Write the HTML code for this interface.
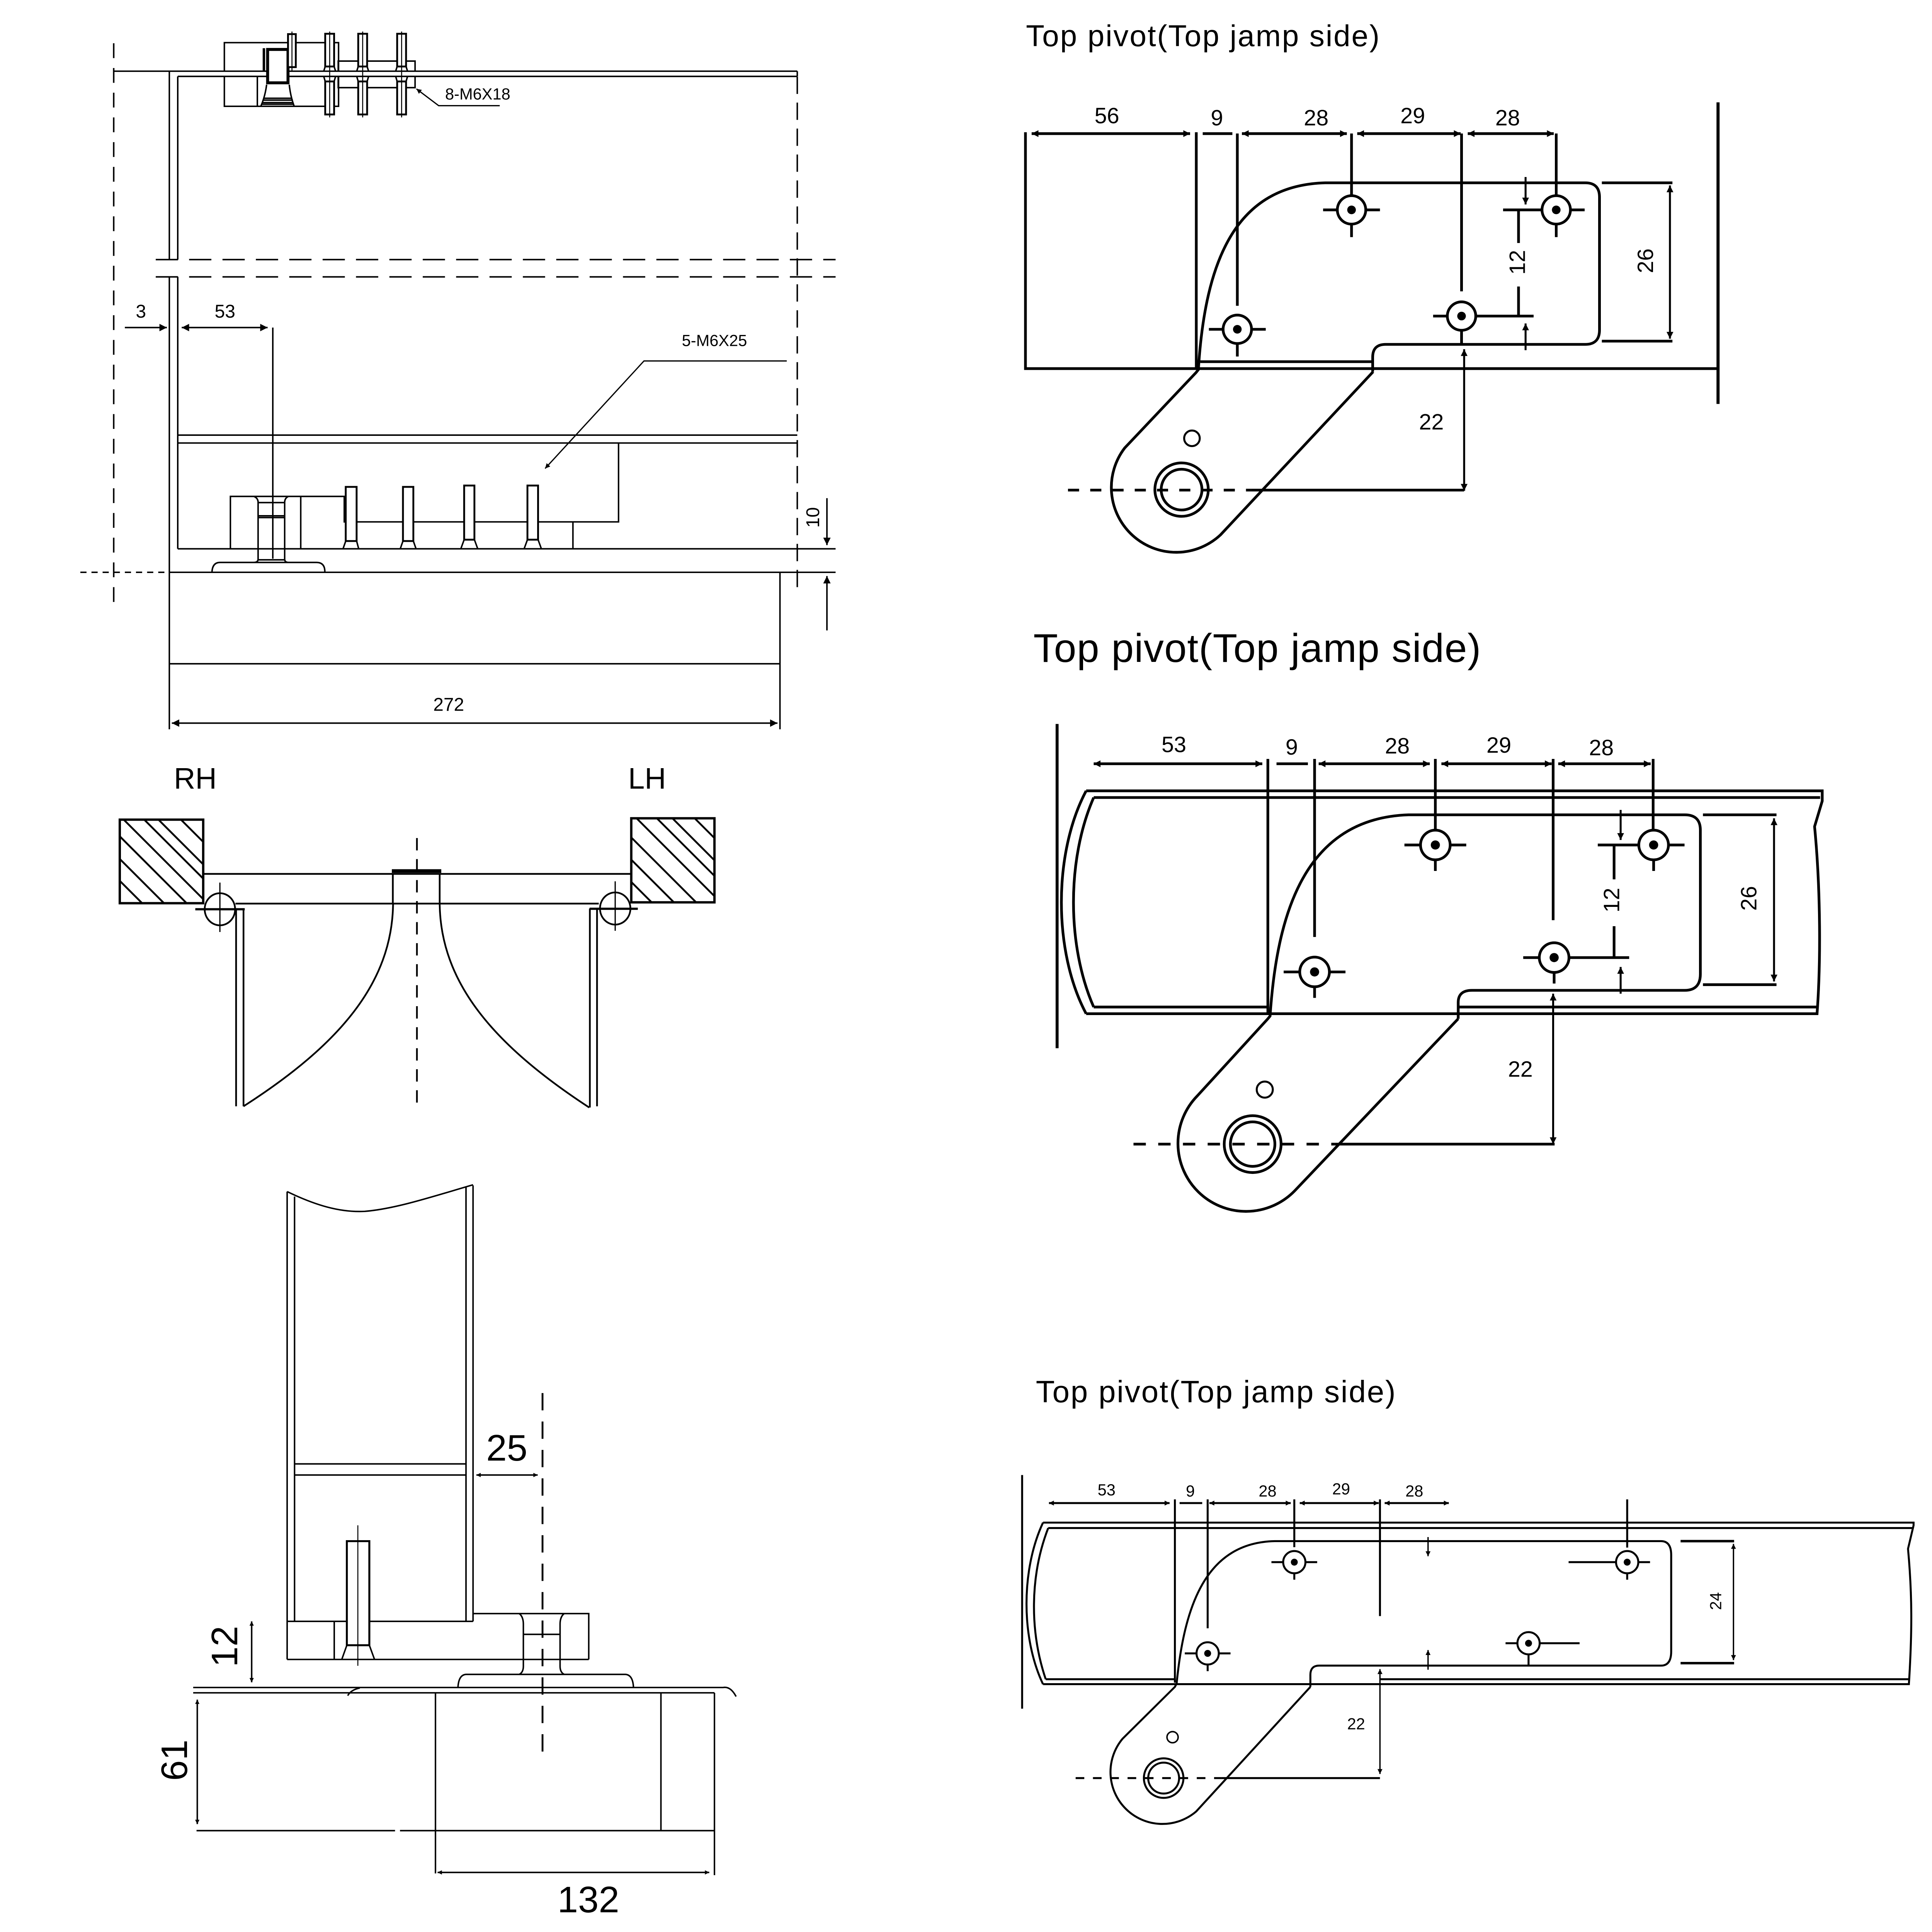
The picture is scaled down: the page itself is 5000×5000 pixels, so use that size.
<!DOCTYPE html>
<html><head><meta charset="utf-8"><title>Top pivot drawing</title>
<style>html,body{margin:0;padding:0;background:#fff}svg{display:block}</style></head>
<body>
<svg xmlns="http://www.w3.org/2000/svg" width="5000" height="5000" viewBox="0 0 1563 1563">
<defs>
<marker id="m1" viewBox="0 0 10 10" refX="10" refY="5" markerWidth="8" markerHeight="6" orient="auto-start-reverse" markerUnits="userSpaceOnUse"><path d="M0,0L10,5L0,10z" fill="#000" stroke="none"/></marker>
<marker id="m4" viewBox="0 0 10 10" refX="10" refY="5" markerWidth="9" markerHeight="5.5" orient="auto-start-reverse" markerUnits="userSpaceOnUse"><path d="M0,0L10,5L0,10z" fill="#000" stroke="none"/></marker>
<marker id="m6" viewBox="0 0 10 10" refX="10" refY="5" markerWidth="6" markerHeight="4" orient="auto-start-reverse" markerUnits="userSpaceOnUse"><path d="M0,0L10,5L0,10z" fill="#000" stroke="none"/></marker>
<marker id="m3" viewBox="0 0 10 10" refX="10" refY="5" markerWidth="6" markerHeight="3.5" orient="auto-start-reverse" markerUnits="userSpaceOnUse"><path d="M0,0L10,5L0,10z" fill="#000" stroke="none"/></marker>
<clipPath id="cl"><rect x="96.9" y="663.1" width="67.5" height="67.6"/></clipPath>
<clipPath id="cr"><rect x="510.7" y="662" width="67.3" height="68"/></clipPath>
</defs>
<rect width="1563" height="1563" fill="#fff"/>

<!-- ================= SECTION 1 (top-left) ================= -->
<g fill="none" stroke="#000" stroke-width="1.2">
  <path d="M92,35V490" stroke-dasharray="12 8"/>
  <path d="M92,57.6H645M143.8,61.8H645M645,57.6V61.8"/>
  <path d="M137,57.6V210M137,224V590"/>
  <path d="M143.8,61.8V210M143.8,224V444"/>
  <path d="M126,210H676M126,224H676" stroke-dasharray="18 9"/>
  <path d="M645,62V480" stroke-dasharray="14 7"/>
  <path d="M144,352H645M144,358.4H645"/>
  <path d="M186.4,444V401.6H278.5V422.2H500.4V358.4"/>
  <path d="M463.5,422.2V444M243.3,401.6V444"/>
  <path d="M143.8,444H676M137,463H676"/>
  <path d="M65,463H137" stroke-dasharray="5 4"/>
  <path d="M631,463V590M137,537H631"/>
  <path d="M139,585H629" marker-start="url(#m1)" marker-end="url(#m1)"/>
  <path d="M669,403V441" marker-end="url(#m1)"/>
  <path d="M669,510V466" marker-end="url(#m1)"/>
  <path d="M101,265H135" marker-end="url(#m1)"/>
  <path d="M147,265H216.5" marker-start="url(#m1)" marker-end="url(#m1)"/>
  <path d="M220.7,265V452"/>
  <path d="M205.4,401.6Q208.8,403 208.8,406.4V452.3Q208.8,455 205.4,455"/>
  <path d="M233.3,401.6Q230.3,403 230.3,406.4V452.3Q230.3,455 233.3,455"/>
  <path d="M208.8,406.6H230.3M208.8,417.3H230.3M208.8,418.7H230.3M208.8,452.9H230.3"/>
  <path d="M171.5,462.5Q172,455 178,455H256Q262.8,455 262.8,462.5"/>
  <g stroke-width="1.5" fill="#fff">
    <rect x="279.7" y="393.9" width="8.8" height="43.8"/>
    <rect x="326" y="393.9" width="8.4" height="43.8"/>
    <rect x="375.5" y="392.8" width="8.3" height="43.8"/>
    <rect x="426.7" y="392.8" width="8.6" height="43.8"/>
  </g>
  <path d="M279.7,437.7L277.5,444M288.5,437.7L290.2,444M326,437.7L323.8,444M334.4,437.7L336.6,444M375.5,436.6L372.8,444M383.8,436.6L386.5,444M426.7,436.6L424,444M435.3,436.6L438,444"/>
  <path d="M181.5,57.6V34.5H273.9V57.6M181.5,61.8V86H273.9V61.8"/>
  <path d="M208.2,61.8V86"/>
  <path d="M273.6,57.6V49.4H335.8V57.6M273.6,61.8V70.9H335.8V61.8"/>
  <rect x="216.5" y="40" width="16.5" height="27" stroke-width="2.4" fill="#fff"/>
  <path d="M213.5,39V57.6" stroke-width="2"/>
  <path d="M215.7,68.5Q214.5,78 211,86M234,68.5Q235,78 238,86M213,79.5H236.5M212.6,81H237M212,83H237.5M211.8,84.3H237.6"/>
  <g stroke-width="1.5" fill="#fff">
    <rect x="233" y="27.6" width="6.3" height="26.7"/>
    <rect x="263.1" y="27.3" width="7.2" height="26.5"/>
    <rect x="289.8" y="27.3" width="7.2" height="26.5"/>
    <rect x="321.3" y="27.3" width="7.2" height="26.5"/>
    <rect x="263.1" y="65.9" width="7.2" height="26.7"/>
    <rect x="289.8" y="65.9" width="7.2" height="26.7"/>
    <rect x="321.3" y="65.9" width="7.2" height="26.7"/>
  </g>
  <path d="M263.1,53.8L261.9,57.6M270.3,53.8L271.5,57.6M289.8,53.8L288.6,57.6M297,53.8L298.2,57.6M321.3,53.8L320.1,57.6M328.5,53.8L329.7,57.6"/>
  <path d="M261.9,61.8L263.1,65.9M271.5,61.8L270.3,65.9M288.6,61.8L289.8,65.9M298.2,61.8L297,65.9M320.1,61.8L321.3,65.9M329.7,61.8L328.5,65.9"/>
  <path d="M236.2,25.5V58M266.7,25.5V95M293.4,25.5V95M324.9,25.5V95" stroke-width="0.8"/>
  <path d="M404.3,85.5H354.9L336.9,71.9" stroke-width="1" marker-end="url(#m6)"/>
  <path d="M636.5,292H521L441,379" stroke-width="1" marker-end="url(#m6)"/>
</g>
<g font-family="Liberation Sans, Arial, sans-serif" fill="#000" text-anchor="middle">
  <text x="386.5" y="80.5" font-size="13">8-M6X18</text>
  <text x="578" y="280" font-size="13">5-M6X25</text>
  <text x="114" y="257" font-size="15">3</text>
  <text x="182" y="257" font-size="15">53</text>
  <text x="363" y="575" font-size="15">272</text>
  <text x="657.4" y="418.6" dy="0.35em" font-size="15" transform="rotate(-90 657.4 418.6)">10</text>
</g>

<!-- ================= SECTION 2 (RH / LH) ================= -->
<g fill="none" stroke="#000" stroke-width="1.4">
  <g clip-path="url(#cl)" stroke-width="1.5">
    <path d="M80,596.7L180,696.7M80,614.9L180,714.9M80,626.4L180,726.4M80,643L180,743M80,659.7L180,759.7M80,678L180,778M80,695.7L180,795.7"/>
  </g>
  <g clip-path="url(#cr)" stroke-width="1.5">
    <path d="M490,590L600,700M490,608L600,718M490,620.6L600,730.6M490,637L600,747M490,656.8L600,766.8M490,674.8L600,784.8M490,692.8L600,802.8"/>
  </g>
  <rect x="96.9" y="663.1" width="67.5" height="67.6" stroke-width="1.9"/>
  <rect x="510.7" y="662" width="67.3" height="68" stroke-width="1.9"/>
  <path d="M164.4,707H510.7M190.5,731H484.4"/>
  <path d="M317,704.7H357" stroke-width="3"/>
  <path d="M317.8,707V731.6M355.7,707V731.6"/>
  <path d="M318,731.6C317,795 275,845 197,895"/>
  <path d="M355.7,731.6C356.7,795 398.7,845 476.7,896"/>
  <path d="M191,735V895M197,735V895M477.2,735V896M483,735V895"/>
  <path d="M158,735.6H198M477,735.2H516" stroke-width="1.8"/>
  <ellipse cx="177.9" cy="735.6" rx="12.3" ry="13"/>
  <ellipse cx="497.7" cy="735" rx="12.3" ry="13"/>
  <path d="M177.9,714V754M497.7,713V753" stroke-width="1"/>
  <path d="M337.3,678V896" stroke-dasharray="10 7"/>
</g>
<g font-family="Liberation Sans, Arial, sans-serif" fill="#000" text-anchor="middle" font-size="24">
  <text x="158" y="638">RH</text>
  <text x="523.5" y="638">LH</text>
</g>

<!-- ================= SECTION 3 (bottom-left) ================= -->
<g fill="none" stroke="#000" stroke-width="1.2">
  <path d="M232.3,964V1342.5M238.3,968V1311.7"/>
  <path d="M377,960V1311.7M382.7,959V1311.7"/>
  <path d="M232.3,964C255,975 275,981 295,980C320,978 350,968 382.7,958.5"/>
  <path d="M238.3,1184.3H377M238.3,1193.3H377"/>
  <path d="M232.3,1311.7H382.7M232.3,1342.5H476.3"/>
  <path d="M382.7,1305.4H476.3V1342.5"/>
  <path d="M270.4,1311.7V1342.5"/>
  <rect x="280.6" y="1246.8" width="18.2" height="84.2" stroke-width="1.6" fill="#fff"/>
  <path d="M280.6,1331L276.5,1342.5M298.8,1331L303,1342.5"/>
  <path d="M289.5,1234V1347.6" stroke-width="0.8"/>
  <path d="M420.1,1305.4Q423.4,1308 423.4,1314V1348Q423.4,1353 420,1354.6"/>
  <path d="M456.4,1305.4Q453.1,1308 453.1,1314V1348Q453.1,1353 456.5,1354.6"/>
  <path d="M423.4,1322.2H453.1"/>
  <path d="M370.5,1365.2Q371,1355 377,1354.6H506Q512,1355 512.5,1365.2"/>
  <path d="M156.3,1365.2H585Q591,1364 595.5,1372.5"/>
  <path d="M156.3,1369.5H578"/>
  <path d="M281.3,1371.8Q284,1367 291.1,1365.6"/>
  <path d="M352.3,1369.5V1515.6M534.7,1369.5V1481M578,1369.5V1517"/>
  <path d="M159,1481H319.6M323.6,1481H578"/>
  <path d="M203.6,1311.7V1361" marker-start="url(#m3)" marker-end="url(#m3)"/>
  <path d="M159.6,1375V1475.7" marker-start="url(#m3)" marker-end="url(#m3)"/>
  <path d="M385.4,1193.3H435" marker-start="url(#m3)" marker-end="url(#m3)"/>
  <path d="M354,1514.8H573.8" marker-start="url(#m3)" marker-end="url(#m3)"/>
  <path d="M438.9,1127V1424" stroke-width="1.5" stroke-dasharray="14 9"/>
</g>
<g font-family="Liberation Sans, Arial, sans-serif" fill="#000" text-anchor="middle" font-size="30">
  <text x="410" y="1181.6">25</text>
  <text x="476" y="1547">132</text>
  <text x="181.4" y="1332" dy="0.35em" transform="rotate(-90 181.4 1332)">12</text>
  <text x="140.8" y="1424" dy="0.35em" transform="rotate(-90 140.8 1424)">61</text>
</g>

<!-- ================= SECTION 4 (top right) ================= -->
<g fill="none" stroke="#000" stroke-width="2.2">
  <path d="M829.6,107V298.2H1389.9M967.8,107V298.2"/>
  <path d="M1389.9,82.8V326.8" stroke-width="2.5"/>
  <path d="M834.6,108.1H962.8" marker-start="url(#m4)" marker-end="url(#m4)"/>
  <path d="M973,108.1H997"/>
  <path d="M1004.7,108.1H1089.6" marker-start="url(#m4)" marker-end="url(#m4)"/>
  <path d="M1098,108.1H1181.7" marker-start="url(#m4)" marker-end="url(#m4)"/>
  <path d="M1187.4,108.1H1257" marker-start="url(#m4)" marker-end="url(#m4)"/>
  <path d="M1001,108V247.4M1093.4,108V158.3M1182.4,108V235.7M1259,108V158.3"/>
  <path d="M1110.5,300.7V289Q1110.5,278.6 1121,278.6H1282.5Q1294,278.6 1294,267V159.5Q1294,147.9 1282.5,147.9H1072C1000,150 975,210 969.5,299L967.6,301.4L909.9,362.4A52.5,52.5 0 0 0 987.4,432.7L1110.9,300.7"/>
  <path d="M971,292.6H1110.5"/>
  <g fill="#fff">
    <circle cx="1001" cy="266.4" r="11.5"/>
    <circle cx="1093.4" cy="169.8" r="11.5"/>
    <circle cx="1182.4" cy="255.7" r="11.5"/>
    <circle cx="1259" cy="169.8" r="11.5"/>
  </g>
  <path d="M978,266.4H989.5M1012.5,266.4H1024M1001,277.9V288.4"/>
  <path d="M1070.4,169.8H1081.9M1104.9,169.8H1116.4M1093.4,181.3V191.8"/>
  <path d="M1159.4,255.7H1170.9M1193.9,255.7H1240.7M1182.4,267.2V278"/>
  <path d="M1216,169.8H1247.5M1270.5,169.8H1282M1259,181.3V191.8"/>
  <path d="M1228.5,169.3V196.6M1228.5,231.8V255.7"/>
  <path d="M1234.2,143.2V165.4" stroke-width="1.6" marker-end="url(#m4)"/>
  <path d="M1234.2,283.3V261.7" stroke-width="1.6" marker-end="url(#m4)"/>
  <path d="M1295.9,147.9H1353M1295.9,276H1353"/>
  <path d="M1351,150V274" stroke-width="1.6" marker-start="url(#m4)" marker-end="url(#m4)"/>
  <circle cx="955.9" cy="396.1" r="21.6"/>
  <circle cx="955.9" cy="396.1" r="16.5"/>
  <circle cx="964.3" cy="354.6" r="6.3" stroke-width="1.6"/>
  <path d="M864,396.5H1012" stroke-dasharray="9 9"/>
  <path d="M1012,396.5H1184.5"/>
  <path d="M1184.5,282.5V397" stroke-width="1.6" marker-start="url(#m4)" marker-end="url(#m4)"/>
</g>
<g fill="#000">
  <circle cx="1001" cy="266.4" r="3.5"/><circle cx="1093.4" cy="169.8" r="3.5"/>
  <circle cx="1182.4" cy="255.7" r="3.5"/><circle cx="1259" cy="169.8" r="3.5"/>
</g>
<g font-family="Liberation Sans, Arial, sans-serif" fill="#000" text-anchor="middle" font-size="18">
  <text x="830" y="37.3" text-anchor="start" font-size="24.5" textLength="286" lengthAdjust="spacing">Top pivot(Top jamp side)</text>
  <text x="895.5" y="99.7">56</text>
  <text x="984.5" y="101.5">9</text>
  <text x="1064.8" y="101.5">28</text>
  <text x="1142.9" y="99.7">29</text>
  <text x="1219.7" y="101.5">28</text>
  <text x="1158" y="347.5">22</text>
  <text x="1227.4" y="212.2" dy="0.35em" transform="rotate(-90 1227.4 212.2)">12</text>
  <text x="1331" y="211" dy="0.35em" transform="rotate(-90 1331 211)">26</text>
</g>

<!-- ================= SECTION 5 (middle right) ================= -->
<g fill="none" stroke="#000" stroke-width="2.2">
  <path d="M855.2,585.7V848" stroke-width="2.4"/>
  <path d="M884.8,617.9H1021.2" marker-start="url(#m4)" marker-end="url(#m4)"/>
  <path d="M1032.7,617.9H1058.1"/>
  <path d="M1066.8,617.9H1156.7" marker-start="url(#m4)" marker-end="url(#m4)"/>
  <path d="M1166.1,617.9H1255.3" marker-start="url(#m4)" marker-end="url(#m4)"/>
  <path d="M1260.6,617.9H1335.4" marker-start="url(#m4)" marker-end="url(#m4)"/>
  <path d="M1025.7,614V820M1063.5,614V758M1161.2,614V671.6M1256.5,614V744.4M1337.4,614V671.6"/>
  <path d="M878.7,639.8H1474.2V648L1468,668.7C1473,720 1473,780 1470,820.1H878.7"/>
  <path d="M884.8,645.2H1472.5"/>
  <path d="M884.8,814.7H1025.7M1179.7,814.7H1470"/>
  <path d="M878.7,639.8C852,690 852,770 878.7,820.1"/>
  <path d="M884.8,645.2C863,695 863,765 884.8,814.7"/>
  <path d="M1179.7,824.2V811Q1179.7,801.2 1190.8,801.2H1363Q1375.6,801.2 1375.6,788V671.5Q1375.6,659.2 1363,659.2H1139.5C1055,662 1033,740 1027.5,822L1025.7,824.2L968.7,886.5A55,55 0 0 0 1047.3,963.5L1179.7,824.2"/>
  <g fill="#fff">
    <circle cx="1063.5" cy="786.3" r="12"/>
    <circle cx="1161.2" cy="683.6" r="12"/>
    <circle cx="1257.3" cy="774.7" r="12"/>
    <circle cx="1337.8" cy="683.6" r="12"/>
  </g>
  <path d="M1038.5,786.3H1051.5M1075.5,786.3H1088.5M1063.5,798.3V807.3"/>
  <path d="M1136.2,683.6H1149.2M1173.2,683.6H1186.2M1161.2,695.6V704.6"/>
  <path d="M1232.3,774.7H1245.3M1269.3,774.7H1318M1257.3,786.7V795.7"/>
  <path d="M1292.6,683.6H1325.8M1349.8,683.6H1362.8M1337.8,695.6V704.6"/>
  <path d="M1305.8,684.4V711.4M1305.8,749.3V774.2"/>
  <path d="M1311.1,655.2V679.5" stroke-width="1.6" marker-end="url(#m4)"/>
  <path d="M1311.1,803.9V782.3" stroke-width="1.6" marker-end="url(#m4)"/>
  <path d="M1377.7,659.2H1437.2M1377.7,796.6H1437.2"/>
  <path d="M1435.2,662V794" stroke-width="1.6" marker-start="url(#m4)" marker-end="url(#m4)"/>
  <circle cx="1013.4" cy="925.6" r="23"/>
  <circle cx="1013.4" cy="925.6" r="18"/>
  <circle cx="1023.2" cy="881.5" r="6.5" stroke-width="1.6"/>
  <path d="M917,925.6H1080" stroke-dasharray="10 10"/>
  <path d="M1080,925.6H1257.7"/>
  <path d="M1256.5,803.9V925.6" stroke-width="1.6" marker-start="url(#m4)" marker-end="url(#m4)"/>
</g>
<g fill="#000">
  <circle cx="1063.5" cy="786.3" r="3.7"/><circle cx="1161.2" cy="683.6" r="3.7"/>
  <circle cx="1257.3" cy="774.7" r="3.7"/><circle cx="1337.8" cy="683.6" r="3.7"/>
</g>
<g font-family="Liberation Sans, Arial, sans-serif" fill="#000" text-anchor="middle" font-size="18">
  <text x="836" y="535.5" text-anchor="start" font-size="32.5" textLength="362" lengthAdjust="spacing">Top pivot(Top jamp side)</text>
  <text x="949.7" y="608.5">53</text>
  <text x="1045" y="610.5">9</text>
  <text x="1130.4" y="609.5">28</text>
  <text x="1212.6" y="609">29</text>
  <text x="1295.5" y="611">28</text>
  <text x="1230" y="871">22</text>
  <text x="1303.7" y="728.2" dy="0.35em" transform="rotate(-90 1303.7 728.2)">12</text>
  <text x="1414.6" y="726.8" dy="0.35em" transform="rotate(-90 1414.6 726.8)">26</text>
</g>

<!-- ================= SECTION 6 (bottom right) ================= -->
<g fill="none" stroke="#000" stroke-width="1.6">
  <path d="M826.9,1193.3V1382.3"/>
  <path d="M848.6,1216H946.2" marker-start="url(#m6)" marker-end="url(#m6)"/>
  <path d="M954.3,1216H972.6"/>
  <path d="M978.4,1216H1044.2" marker-start="url(#m6)" marker-end="url(#m6)"/>
  <path d="M1051.5,1216H1115.4" marker-start="url(#m6)" marker-end="url(#m6)"/>
  <path d="M1120.2,1216H1172.1" marker-start="url(#m6)" marker-end="url(#m6)"/>
  <path d="M950.5,1213V1361.3M977,1213V1317.3M1047.1,1213V1251.7M1116.4,1213V1307.4M1316.4,1213V1252"/>
  <path d="M843.8,1231.8H1548.1V1234L1543.6,1253C1547,1290 1547,1320 1544.3,1362.5H843.8"/>
  <path d="M848,1236.2H1547"/>
  <path d="M846,1358.5H950.5M1116.4,1358.5H1544"/>
  <path d="M843.8,1231.8C826,1270 826,1325 843.8,1362.5"/>
  <path d="M848,1236.2C833,1275 833,1320 846,1358.5"/>
  <path d="M1060.1,1364.7V1355Q1060.1,1347.5 1067.3,1347.5H1343.8Q1352,1347.5 1352,1336V1258Q1352,1246.8 1343.8,1246.8H1031.3C975,1248 958,1300 951.9,1362L950.5,1364.7L908.2,1406.6A42,42 0 0 0 967.8,1465.4L1060.1,1364.7"/>
  <g fill="#fff">
    <circle cx="977" cy="1337.6" r="9"/>
    <circle cx="1047.1" cy="1263.8" r="9"/>
    <circle cx="1236.6" cy="1329.4" r="9"/>
    <circle cx="1316.4" cy="1263.8" r="9"/>
  </g>
  <path d="M958.5,1337.6H968M986,1337.6H995.5M977,1346.6V1352"/>
  <path d="M1028.6,1263.8H1038.1M1056.1,1263.8H1065.6M1047.1,1272.8V1278"/>
  <path d="M1218,1329.4H1227.6M1245.6,1329.4H1277.9M1236.6,1338.4V1347.5"/>
  <path d="M1269,1263.8H1307.4M1325.4,1263.8H1334.9M1316.4,1272.8V1278"/>
  <path d="M1155.3,1243.5V1259" stroke-width="1.1" marker-end="url(#m6)"/>
  <path d="M1155.3,1350.8V1334.9" stroke-width="1.1" marker-end="url(#m6)"/>
  <path d="M1359.6,1246.8H1402.9M1359.6,1345.5H1402.9" stroke-width="2"/>
  <path d="M1402.4,1249V1343" stroke-width="1.1" marker-start="url(#m6)" marker-end="url(#m6)"/>
  <circle cx="941.4" cy="1438.5" r="16"/>
  <circle cx="941.4" cy="1438.5" r="12.5"/>
  <circle cx="948.6" cy="1405.4" r="4.5" stroke-width="1.2"/>
  <path d="M870.2,1438.5H988" stroke-dasharray="7 7"/>
  <path d="M988,1438.5H1116.4"/>
  <path d="M1116.4,1350.3V1435.2" stroke-width="1.1" marker-start="url(#m6)" marker-end="url(#m6)"/>
</g>
<g fill="#000">
  <circle cx="977" cy="1337.6" r="2.8"/><circle cx="1047.1" cy="1263.8" r="2.8"/>
  <circle cx="1236.6" cy="1329.4" r="2.8"/><circle cx="1316.4" cy="1263.8" r="2.8"/>
</g>
<g font-family="Liberation Sans, Arial, sans-serif" fill="#000" text-anchor="middle" font-size="13">
  <text x="838" y="1134.5" text-anchor="start" font-size="25" textLength="291" lengthAdjust="spacing">Top pivot(Top jamp side)</text>
  <text x="895.2" y="1209.7">53</text>
  <text x="963" y="1210.7">9</text>
  <text x="1025.5" y="1210.7">28</text>
  <text x="1085" y="1209">29</text>
  <text x="1144.2" y="1210.7">28</text>
  <text x="1097.1" y="1399">22</text>
  <text x="1388" y="1295.3" dy="0.35em" transform="rotate(-90 1388 1295.3)">24</text>
</g>
</svg>
</body></html>
